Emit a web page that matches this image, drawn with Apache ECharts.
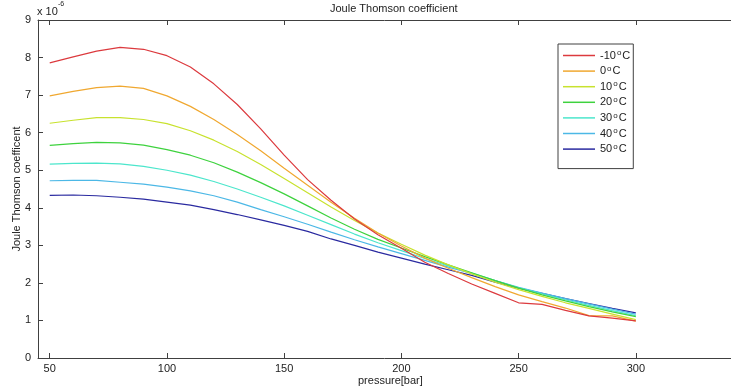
<!DOCTYPE html>
<html>
<head>
<meta charset="utf-8">
<script src="https://cdn.jsdelivr.net/npm/echarts@6/dist/echarts.min.js"></script>
<style>
html,body{margin:0;padding:0;background:#fff;}
#chart{width:731px;height:392px;}
</style>
</head>
<body>
<div id="chart"></div>
<script>
// pressure [bar]
const pressure = [50,60,70,80,90,100,110,120,130,140,150,160,170,180,190,200,210,220,230,240,250,260,270,280,290,300];
// Joule Thomson coefficient (x 10^-6)
const tm10 = [7.86,8.02,8.17,8.27,8.22,8.05,7.75,7.30,6.75,6.10,5.40,4.75,4.20,3.70,3.28,2.92,2.55,2.25,1.97,1.72,1.47,1.43,1.27,1.12,1.06,0.99];
const t0   = [6.98,7.10,7.20,7.24,7.18,6.98,6.70,6.35,5.95,5.52,5.05,4.60,4.15,3.72,3.33,2.98,2.66,2.39,2.14,1.90,1.68,1.50,1.33,1.13,1.12,0.98];
const t10  = [6.25,6.33,6.40,6.40,6.35,6.24,6.05,5.80,5.50,5.15,4.78,4.40,4.02,3.66,3.33,3.03,2.74,2.48,2.24,2.02,1.82,1.64,1.47,1.32,1.17,1.02];
const t20  = [5.66,5.71,5.74,5.73,5.67,5.55,5.40,5.20,4.95,4.67,4.37,4.05,3.73,3.43,3.16,2.93,2.70,2.48,2.27,2.06,1.86,1.68,1.52,1.37,1.23,1.10];
const t30  = [5.16,5.18,5.19,5.17,5.10,5.00,4.87,4.70,4.50,4.28,4.05,3.80,3.55,3.30,3.07,2.86,2.65,2.45,2.26,2.06,1.87,1.71,1.55,1.40,1.26,1.13];
const t40  = [4.72,4.73,4.73,4.68,4.63,4.55,4.45,4.32,4.15,3.95,3.76,3.56,3.35,3.15,2.96,2.78,2.60,2.42,2.25,2.06,1.88,1.73,1.58,1.44,1.30,1.17];
const t50  = [4.33,4.34,4.32,4.28,4.23,4.15,4.07,3.95,3.82,3.68,3.53,3.37,3.17,3.00,2.82,2.66,2.50,2.35,2.20,2.02,1.86,1.72,1.58,1.45,1.32,1.20];
const seriesNames = ['-10','0','10','20','30','40','50'];
const seriesData = [tm10,t0,t10,t20,t30,t40,t50];
const colors = ['#dc3a3e','#f0a830','#c8e22e','#3ed23e','#4ce6cc','#4cb8e6','#2a2aa0'];
const xTicks = [50,100,150,200,250,300];
const yTicks = [0,1,2,3,4,5,6,7,8,9];

const FONT = "'Liberation Sans Narrow','Liberation Sans',Arial,sans-serif";
const chart = echarts.init(document.getElementById('chart'), null, {renderer:'canvas'});

const series = seriesNames.map((n,i)=>({
  name: n,
  type: 'line',
  data: pressure.map((p,j)=>[p, seriesData[i][j]]),
  symbol: 'none',
  smooth: false,
  lineStyle: {width: 1.2, color: colors[i]},
  itemStyle: {color: colors[i]},
  z: 10 - i
}));

const axisLineStyle = {color:'#404040', width:1};

chart.setOption({
  animation: false,
  backgroundColor: '#fff',
  grid: {left: 38, top: 20, right: 0, bottom: 34, containLabel: false},
  xAxis: [{
    type: 'value', min: 45, max: 340.6, position: 'bottom',
    axisLine: {show: true, onZero: false, lineStyle: axisLineStyle},
    axisTick: {show: true, inside: true, length: 5, lineStyle: axisLineStyle, customValues: xTicks},
    axisLabel: {show: true, color: '#222', fontFamily: FONT, fontSize: 11, margin: 5, customValues: xTicks},
    splitLine: {show: false}
  },{
    type: 'value', min: 45, max: 340.6, position: 'top',
    axisLine: {show: true, onZero: false, lineStyle: axisLineStyle},
    axisTick: {show: true, inside: true, length: 5, lineStyle: axisLineStyle, customValues: xTicks},
    axisLabel: {show: false},
    splitLine: {show: false}
  }],
  yAxis: [{
    type: 'value', min: 0, max: 9, interval: 1, position: 'left',
    axisLine: {show: true, onZero: false, lineStyle: axisLineStyle},
    axisTick: {show: true, inside: true, length: 5, lineStyle: axisLineStyle},
    axisLabel: {show: true, color: '#222', fontFamily: FONT, fontSize: 11, margin: 7},
    splitLine: {show: false}
  }],
  legend: {
    show: true,
    orient: 'vertical',
    left: 558, top: 44,
    padding: [5, 3, 14, 5],
    itemGap: 3.6,
    itemWidth: 32, itemHeight: 1.5,
    icon: 'rect',
    borderColor: '#404040', borderWidth: 1, backgroundColor: '#fff',
    data: seriesNames,
    formatter: function(name){ return '{t|' + name + '}{s|o}{t|C}'; },
    textStyle: {
      fontFamily: FONT, fontSize: 11, color: '#222',
      rich: {
        t: {fontFamily: FONT, fontSize: 11, color: '#222', lineHeight: 13},
        s: {fontFamily: FONT, fontSize: 8, color: '#222', lineHeight: 13, verticalAlign: 'top', padding:[0,1,0,1]}
      }
    },
    selectedMode: false
  },
  graphic: [
    {type:'text', left: 330, top: 3, style:{text:'Joule Thomson coefficient', font:"11px " + FONT, fill:'#222'}, z: 100},
    {type:'text', left: 358, top: 375, style:{text:'pressure[bar]', font:"11px " + FONT, fill:'#222'}, z: 100},
    {type:'text', x: 17, y: 189, rotation: Math.PI/2, style:{text:'Joule Thomson coefficent', font:"11px " + FONT, fill:'#222', align:'center', verticalAlign:'middle'}, z: 100},
    {type:'text', left: 37, top: 6, style:{text:'x 10', font:"11px " + FONT, fill:'#222'}, z: 100},
    {type:'text', left: 58, top: 1, style:{text:'-6', font:"7px " + FONT, fill:'#222'}, z: 100}
  ],
  series: series
});
</script>
</body>
</html>
